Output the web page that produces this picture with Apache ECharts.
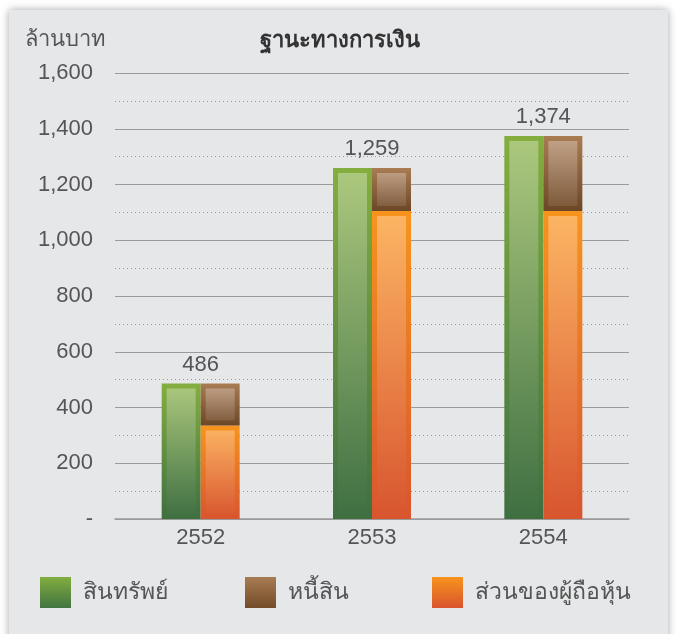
<!DOCTYPE html>
<html>
<head>
<meta charset="utf-8">
<script src="https://cdn.jsdelivr.net/npm/echarts@6/dist/echarts.min.js"></script>
<style>
  html, body { margin: 0; padding: 0; background: #fff; }
  #panel {
    position: absolute; left: 9px; top: 10px; width: 659px; height: 640px;
    background: #e6e7e9; box-shadow: 0 0 8px rgba(0,0,0,0.35);
  }
  #chart { position: absolute; left: 0; top: 0; width: 677px; height: 634px; }
</style>
</head>
<body>
<div id="panel"></div>
<div id="chart"></div>
<script>
const years = ["2552", "2553", "2554"];
const assets = [486, 1259, 1374];
const liabilities = [151, 154, 269];
const equity = [335, 1105, 1105];
const seriesNames = ["สินทรัพย์", "หนี้สิน", "ส่วนของผู้ถือหุ้น"];

const font = "'Liberation Sans', 'Noto Sans', sans-serif";
const textColor = "#555";

const grad = (top, bottom) =>
  new echarts.graphic.LinearGradient(0, 0, 0, 1, [
    { offset: 0, color: top },
    { offset: 1, color: bottom },
  ]);

const chart = echarts.init(document.getElementById("chart"));

// one legend per item so each can sit where the original has it
const legendAt = (name, left, iconColor) => ({
  data: [name],
  left: left,
  top: 572,
  itemWidth: 31,
  itemHeight: 31,
  icon: "rect",
  itemStyle: { borderWidth: 0, color: iconColor },
  textStyle: { fontSize: 23, color: textColor, fontFamily: font, padding: [0, 0, 0, 7] },
});

const options = {
  animation: false,
  textStyle: { fontFamily: font },
  title: [
    {
      text: "ฐานะทางการเงิน",
      left: 335,
      textAlign: "center",
      top: 25,
      textStyle: { fontSize: 22, fontWeight: "bold", color: "#333", fontFamily: font },
    },
    {
      text: "ล้านบาท",
      left: 20,
      top: 24,
      textStyle: { fontSize: 22, fontWeight: "normal", color: textColor, fontFamily: font },
    },
  ],
  legend: [
    legendAt(seriesNames[0], 35, grad("#82ad3f", "#427441")),
    legendAt(seriesNames[1], 240, grad("#a87c52", "#734c2a")),
    legendAt(seriesNames[2], 427, grad("#f7941d", "#d9542e")),
  ],
  grid: { left: 115, right: 48, top: 73, bottom: 115, containLabel: false },
  xAxis: {
    type: "category",
    data: years,
    axisLine: { lineStyle: { color: "#9a9a9a", width: 1.5 } },
    axisTick: { length: 12, lineStyle: { color: "#9a9a9a", width: 1.5 } },
    axisLabel: { fontSize: 22, color: textColor, margin: 8, fontFamily: font },
  },
  yAxis: {
    type: "value",
    min: 0,
    max: 1600,
    interval: 200,
    axisLine: { show: false },
    axisTick: { show: false },
    axisLabel: {
      fontSize: 22,
      color: textColor,
      margin: 22,
      fontFamily: font,
      formatter: (v) => (v === 0 ? "-" : v.toLocaleString("en-US")),
    },
    splitLine: { lineStyle: { color: "#9a9a9a", width: 1 } },
    minorTick: { show: false, splitNumber: 2 },
    minorSplitLine: { show: true, lineStyle: { color: "#999", type: [1, 3], width: 1 } },
  },
  series: [
    {
      name: seriesNames[0],
      type: "bar",
      data: assets,
      barWidth: 39,
      barGap: "0%",
      itemStyle: {
        color: grad("#adc97e", "#3f6f42"),
        borderColor: grad("#84ae3e", "#3f6f41"),
        borderWidth: 5,
      },
    },
    {
      name: seriesNames[2],
      type: "bar",
      stack: "total",
      data: equity,
      barWidth: 39,
      itemStyle: {
        color: grad("#fcb664", "#d8552f"),
        borderColor: grad("#f7941d", "#d8552e"),
        borderWidth: 5,
      },
    },
    {
      name: seriesNames[1],
      type: "bar",
      stack: "total",
      data: liabilities,
      barWidth: 39,
      itemStyle: {
        color: grad("#c5a68b", "#7a5536"),
        borderColor: grad("#a97c52", "#6c4726"),
        borderWidth: 5,
      },
      label: {
        show: true,
        position: "top",
        distance: 8,
        offset: [-19.5, 0],
        fontSize: 22,
        color: textColor,
        fontFamily: font,
        formatter: (p) => assets[p.dataIndex].toLocaleString("en-US"),
      },
    },
  ],
};

chart.setOption(options);
</script>
</body>
</html>
